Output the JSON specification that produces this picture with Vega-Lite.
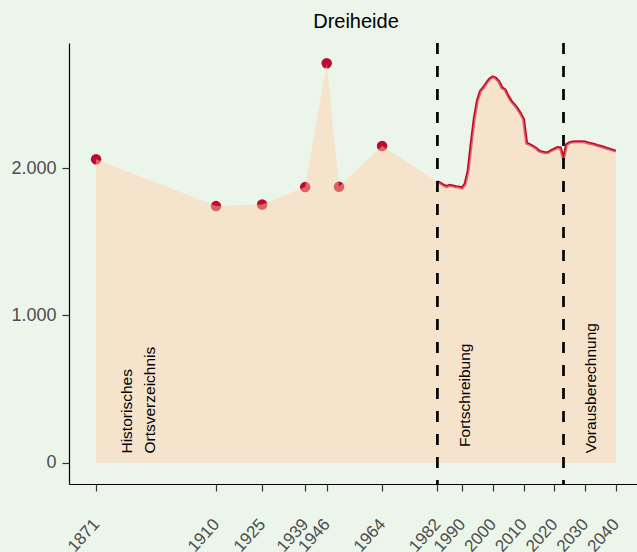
{
  "$schema": "https://vega.github.io/schema/vega-lite/v6.json",
  "width": 568,
  "height": 441,
  "autosize": {"type": "none"},
  "padding": {"left": 69, "top": 43, "right": 0, "bottom": 68},
  "background": "#ECF5EA",
  "title": {"text": "Dreiheide", "fontSize": 20, "font": "Liberation Sans", "fontWeight": "normal", "color": "#000000", "anchor": "middle", "baseline": "alphabetic", "offset": -6, "dx": 3},
  "config": {"view": {"stroke": null}, "font": "Liberation Sans"},
  "datasets": {
    "pop": [
      {"year": 1871, "pop": 2061, "src": "hist"},
      {"year": 1910, "pop": 1743, "src": "hist"},
      {"year": 1925, "pop": 1754, "src": "hist"},
      {"year": 1939, "pop": 1872, "src": "hist"},
      {"year": 1946, "pop": 2713, "src": "hist"},
      {"year": 1950, "pop": 1874, "src": "hist"},
      {"year": 1964, "pop": 2151, "src": "hist"},
      {"year": 1982, "pop": 1909, "src": "fort"},
      {"year": 1983, "pop": 1898, "src": "fort"},
      {"year": 1984, "pop": 1885, "src": "fort"},
      {"year": 1985, "pop": 1876, "src": "fort"},
      {"year": 1986, "pop": 1884, "src": "fort"},
      {"year": 1987, "pop": 1880, "src": "fort"},
      {"year": 1988, "pop": 1874, "src": "fort"},
      {"year": 1989, "pop": 1872, "src": "fort"},
      {"year": 1990, "pop": 1866, "src": "fort"},
      {"year": 1991, "pop": 1893, "src": "fort"},
      {"year": 1992, "pop": 1985, "src": "fort"},
      {"year": 1993, "pop": 2170, "src": "fort"},
      {"year": 1994, "pop": 2340, "src": "fort"},
      {"year": 1995, "pop": 2460, "src": "fort"},
      {"year": 1996, "pop": 2525, "src": "fort"},
      {"year": 1997, "pop": 2548, "src": "fort"},
      {"year": 1998, "pop": 2580, "src": "fort"},
      {"year": 1999, "pop": 2607, "src": "fort"},
      {"year": 2000, "pop": 2621, "src": "fort"},
      {"year": 2001, "pop": 2612, "src": "fort"},
      {"year": 2002, "pop": 2588, "src": "fort"},
      {"year": 2003, "pop": 2546, "src": "fort"},
      {"year": 2004, "pop": 2533, "src": "fort"},
      {"year": 2005, "pop": 2490, "src": "fort"},
      {"year": 2006, "pop": 2456, "src": "fort"},
      {"year": 2007, "pop": 2432, "src": "fort"},
      {"year": 2008, "pop": 2405, "src": "fort"},
      {"year": 2009, "pop": 2372, "src": "fort"},
      {"year": 2010, "pop": 2334, "src": "fort"},
      {"year": 2011, "pop": 2170, "src": "fort"},
      {"year": 2012, "pop": 2161, "src": "fort"},
      {"year": 2013, "pop": 2150, "src": "fort"},
      {"year": 2014, "pop": 2137, "src": "fort"},
      {"year": 2015, "pop": 2118, "src": "fort"},
      {"year": 2016, "pop": 2110, "src": "fort"},
      {"year": 2017, "pop": 2105, "src": "fort"},
      {"year": 2018, "pop": 2107, "src": "fort"},
      {"year": 2019, "pop": 2120, "src": "fort"},
      {"year": 2020, "pop": 2130, "src": "fort"},
      {"year": 2021, "pop": 2140, "src": "fort"},
      {"year": 2022, "pop": 2138, "src": "fort"},
      {"year": 2023, "pop": 2062, "src": "fort"},
      {"year": 2024, "pop": 2162, "src": "vb"},
      {"year": 2025, "pop": 2174, "src": "vb"},
      {"year": 2026, "pop": 2179, "src": "vb"},
      {"year": 2027, "pop": 2180, "src": "vb"},
      {"year": 2028, "pop": 2180, "src": "vb"},
      {"year": 2029, "pop": 2180, "src": "vb"},
      {"year": 2030, "pop": 2178, "src": "vb"},
      {"year": 2031, "pop": 2172, "src": "vb"},
      {"year": 2032, "pop": 2167, "src": "vb"},
      {"year": 2033, "pop": 2161, "src": "vb"},
      {"year": 2034, "pop": 2155, "src": "vb"},
      {"year": 2035, "pop": 2150, "src": "vb"},
      {"year": 2036, "pop": 2143, "src": "vb"},
      {"year": 2037, "pop": 2136, "src": "vb"},
      {"year": 2038, "pop": 2130, "src": "vb"},
      {"year": 2039, "pop": 2123, "src": "vb"},
      {"year": 2040, "pop": 2116, "src": "vb"}
    ],
    "breaks": [{"year": 1982}, {"year": 2023}],
    "labels": [
      {"year": 1882.8, "pop": 62, "label": "Historisches\nOrtsverzeichnis"},
      {"year": 1992.6, "pop": 107, "label": "Fortschreibung"},
      {"year": 2033.7, "pop": 64, "label": "Vorausberechnung"}
    ]
  },
  "layer": [
    {
      "data": {"name": "pop"},
      "transform": [{"filter": "datum.src === 'hist'"}],
      "mark": {"type": "point", "filled": true, "size": 110, "color": "#BE0A2F", "opacity": 1},
      "encoding": {
        "x": {"field": "year", "type": "quantitative", "scale": {"domain": [1862.2, 2046.9], "nice": false, "zero": false},
          "axis": {"values": [1871, 1910, 1925, 1939, 1946, 1964, 1982, 1990, 2000, 2010, 2020, 2030, 2040], "format": "d", "labelAngle": -48, "labelAlign": "right", "labelBaseline": "middle", "labelPadding": 30, "labelFontSize": 17, "labelColor": "#4D4D4D", "labelFont": "Liberation Sans", "tickSize": 7, "tickColor": "#333333", "tickWidth": 1.2, "domainColor": "#000000", "domainWidth": 1.2, "grid": false, "title": null, "labelOverlap": false, "labelFlush": false, "labelBound": false}},
        "y": {"field": "pop", "type": "quantitative", "scale": {"domain": [-145, 2851], "nice": false, "zero": false},
          "axis": {"values": [0, 1000, 2000], "labelExpr": "replace(format(datum.value, ','), ',', '.')", "labelFontSize": 18, "labelColor": "#4D4D4D", "labelFont": "Liberation Sans", "labelPadding": 6, "tickSize": 7, "tickColor": "#333333", "tickWidth": 1.2, "domainColor": "#000000", "domainWidth": 1.2, "grid": false, "title": null}}
      }
    },
    {
      "data": {"name": "pop"},
      "transform": [{"filter": "datum.src !== 'hist'"}],
      "mark": {"type": "line", "color": "#BE0A2F", "strokeWidth": 3},
      "encoding": {
        "x": {"field": "year", "type": "quantitative"},
        "y": {"field": "pop", "type": "quantitative"}
      }
    },
    {
      "data": {"name": "pop"},
      "mark": {"type": "area", "color": "#FFCCA6", "opacity": 0.46},
      "encoding": {
        "x": {"field": "year", "type": "quantitative"},
        "y": {"field": "pop", "type": "quantitative"},
        "y2": {"datum": 0}
      }
    },
    {
      "data": {"name": "breaks"},
      "mark": {"type": "rule", "color": "#000000", "strokeWidth": 2.7, "strokeDash": [11, 12]},
      "encoding": {
        "x": {"field": "year", "type": "quantitative"}
      }
    },
    {
      "data": {"name": "labels"},
      "mark": {"type": "text", "angle": 270, "align": "left", "baseline": "alphabetic", "fontSize": 15.5, "font": "Liberation Sans", "color": "#000000", "lineBreak": "\n", "lineHeight": 22.5},
      "encoding": {
        "x": {"field": "year", "type": "quantitative"},
        "y": {"field": "pop", "type": "quantitative"},
        "text": {"field": "label", "type": "nominal"}
      }
    }
  ]
}
